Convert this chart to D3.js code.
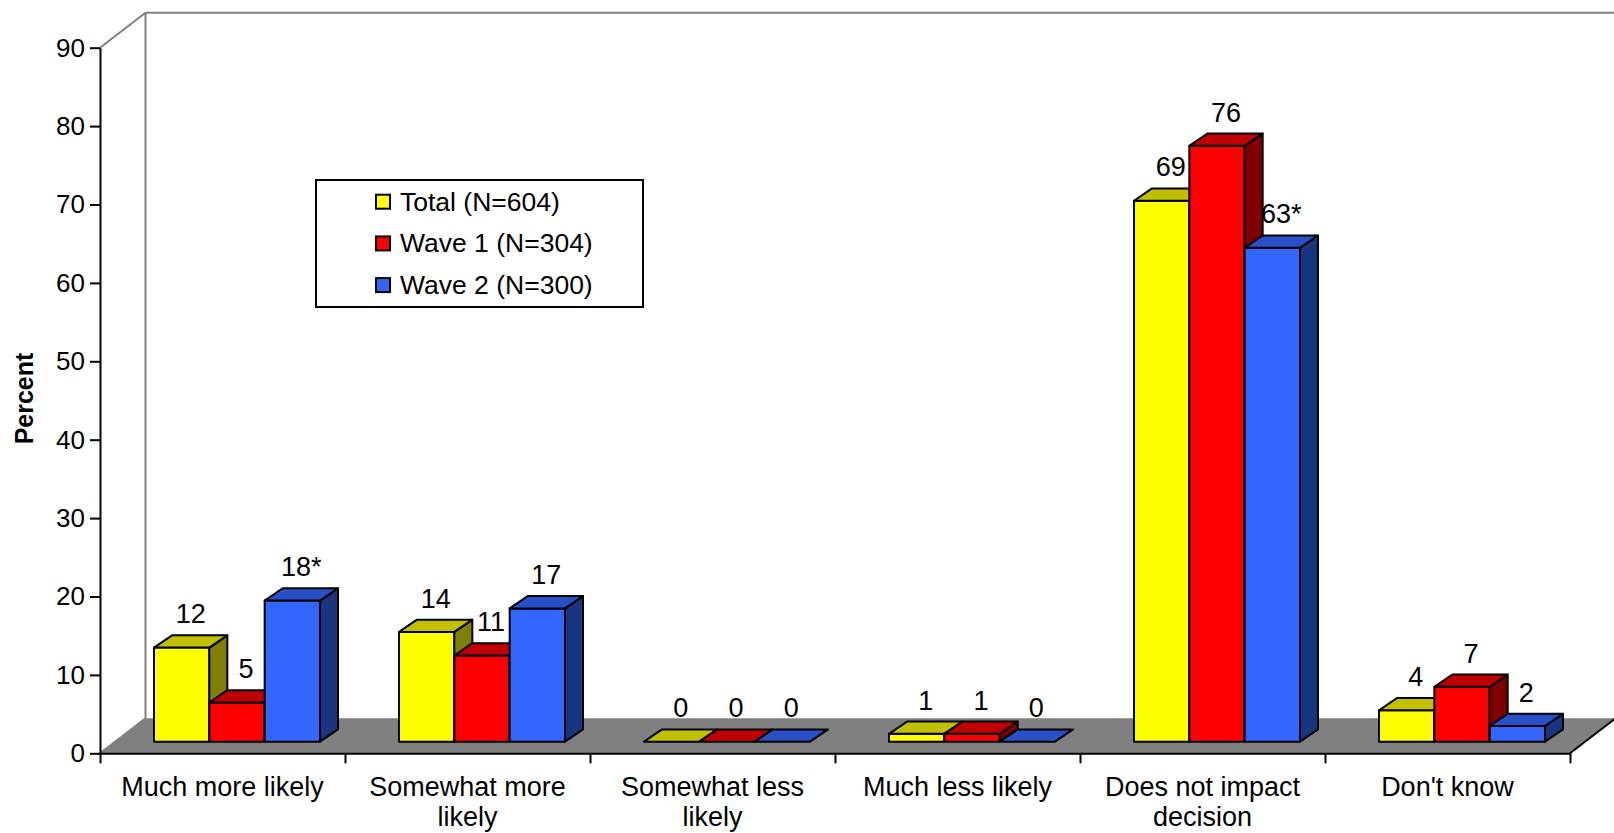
<!DOCTYPE html>
<html>
<head>
<meta charset="utf-8">
<script src="https://cdn.jsdelivr.net/npm/d3@7/dist/d3.min.js"></script>
<style>
  html, body { margin: 0; padding: 0; background: #ffffff; }
  svg { display: block; }
  text { font-family: "Liberation Sans", Arial, sans-serif; fill: #000; }
</style>
</head>
<body>
<svg id="chart" width="1614" height="833"></svg>
<script>
// ---- Data ----
const categories = ["Much more likely", "Somewhat more likely", "Somewhat less likely",
                    "Much less likely", "Does not impact decision", "Don't know"];
const seriesNames = ["Total (N=604)", "Wave 1 (N=304)", "Wave 2 (N=300)"];
const totalValues = [12, 14, 0, 1, 69, 4];
const wave1Values = [5, 11, 0, 1, 76, 7];
const wave2Values = [18, 17, 0, 0, 63, 2];
const wave2Labels = ["18*", "17", "0", "0", "63*", "2"];
const yTicks = [0, 10, 20, 30, 40, 50, 60, 70, 80, 90];
const axisTitle = "Percent";

// Face colours per series: front, top, side
const palette = [
  { front: "#FFFF00", top: "#C0C000", side: "#808000" },
  { front: "#FF0000", top: "#C00000", side: "#800000" },
  { front: "#3366FF", top: "#2850C8", side: "#1A3580" }
];

const seriesValues = [totalValues, wave1Values, wave2Values];
const seriesLabels = [totalValues.map(String), wave1Values.map(String), wave2Labels];

// ---- Geometry ----
const svg = d3.select("#chart");
const plotLeft = 100, plotRight = 1570, plotTop = 47.7, plotBottom = 753.3;
const depthX = 45.5, depthY = -35;          // floor / wall depth
const barShiftX = 14.5, barShiftY = -11.6;  // front plane of the bars
const barDepthX = 18, barDepthY = -12.3;    // depth of each bar
const font = '"Liberation Sans", Arial, sans-serif';

const y = d3.scaleLinear().domain([0, 90]).range([plotBottom, plotTop]);
const x0 = d3.scaleBand().domain(categories).range([plotLeft, plotRight])
  .paddingInner(0.3224).paddingOuter(0.1612);
const x1 = d3.scaleBand().domain(d3.range(seriesNames.length)).range([0, x0.bandwidth()]);

// ---- Walls and floor ----
const wallGray = "#808080";
svg.append("polygon")
  .attr("points", [[plotLeft, plotBottom], [plotRight, plotBottom],
                   [plotRight + depthX, plotBottom + depthY], [plotLeft + depthX, plotBottom + depthY]]
                  .map(p => p.join(",")).join(" "))
  .attr("fill", "#808080");

// back wall outline
svg.append("line")
  .attr("x1", plotLeft + depthX).attr("y1", plotBottom + depthY)
  .attr("x2", plotLeft + depthX).attr("y2", plotTop + depthY)
  .attr("stroke", wallGray).attr("stroke-width", 2);
svg.append("line")
  .attr("x1", plotLeft + depthX).attr("y1", plotTop + depthY)
  .attr("x2", plotRight + depthX + 10).attr("y2", plotTop + depthY)
  .attr("stroke", wallGray).attr("stroke-width", 2);
// side wall edges
svg.append("line")
  .attr("x1", plotLeft).attr("y1", plotTop)
  .attr("x2", plotLeft + depthX).attr("y2", plotTop + depthY)
  .attr("stroke", wallGray).attr("stroke-width", 2);
svg.append("line")
  .attr("x1", plotLeft).attr("y1", plotBottom)
  .attr("x2", plotLeft + depthX).attr("y2", plotBottom + depthY)
  .attr("stroke", wallGray).attr("stroke-width", 2);
// right floor edge
svg.append("line")
  .attr("x1", plotRight).attr("y1", plotBottom)
  .attr("x2", plotRight + depthX).attr("y2", plotBottom + depthY)
  .attr("stroke", "#000").attr("stroke-width", 2);

// ---- 3D bars ----
const pts = arr => arr.map(p => p.join(",")).join(" ");
const barsG = svg.append("g");
const labelsG = svg.append("g");

categories.forEach((cat, ci) => {
  seriesValues.forEach((vals, si) => {
    const v = vals[ci];
    const c = palette[si];
    const xl = x0(cat) + x1(si) + barShiftX;
    const xr = xl + x1.bandwidth();
    const yb = y(0) + barShiftY;
    const yt = y(v) + barShiftY;
    const g = barsG.append("g")
      .attr("stroke", "#000").attr("stroke-width", 2).attr("stroke-linejoin", "round");
    if (v > 0) {
      g.append("polygon").attr("points", pts([[xl, yb], [xr, yb], [xr, yt], [xl, yt]]))
        .attr("fill", c.front);
      g.append("polygon").attr("points",
        pts([[xr, yb], [xr + barDepthX, yb + barDepthY], [xr + barDepthX, yt + barDepthY], [xr, yt]]))
        .attr("fill", c.side);
    }
    g.append("polygon").attr("points",
      pts([[xl, yt], [xr, yt], [xr + barDepthX, yt + barDepthY], [xl + barDepthX, yt + barDepthY]]))
      .attr("fill", c.top);

    labelsG.append("text")
      .attr("x", (xl + xr) / 2 + barDepthX / 2)
      .attr("y", yt + barDepthY - 12)
      .attr("text-anchor", "middle")
      .style("font-size", "27px")
      .text(seriesLabels[si][ci]);
  });
});

// ---- Axes ----
const yAxis = d3.axisLeft(y).tickValues(yTicks).tickSize(10).tickSizeOuter(0).tickPadding(5);
const yAxisG = svg.append("g").attr("transform", `translate(${plotLeft},0)`).call(yAxis);
yAxisG.select(".domain").attr("stroke", "#000").attr("stroke-width", 2);
yAxisG.selectAll(".tick line").attr("stroke", "#000").attr("stroke-width", 2);
yAxisG.selectAll(".tick text").style("font-size", "26px").style("font-family", font).attr("fill", "#000");

// x axis line and category boundary ticks
const boundaries = d3.range(categories.length + 1);
const xb = d3.scaleLinear().domain([0, categories.length]).range([plotLeft, plotRight]);
const xAxis = d3.axisBottom(xb).tickValues(boundaries).tickSize(10).tickSizeOuter(0).tickFormat("");
const xAxisG = svg.append("g").attr("transform", `translate(0,${plotBottom})`).call(xAxis);
xAxisG.select(".domain").attr("stroke", "#000").attr("stroke-width", 2);
xAxisG.selectAll(".tick line").attr("stroke", "#000").attr("stroke-width", 2);

// category labels, wrapped to the band width
const catG = svg.append("g");
categories.forEach(cat => {
  const cx = x0(cat) + x0.bandwidth() / 2;
  const t = catG.append("text")
    .attr("x", cx).attr("y", 796)
    .attr("text-anchor", "middle")
    .style("font-size", "27px");
  const words = cat.split(" ");
  let line = [];
  let tspan = t.append("tspan").attr("x", cx).attr("dy", 0);
  words.forEach(w => {
    line.push(w);
    tspan.text(line.join(" "));
    if (tspan.node().getComputedTextLength() > 222 && line.length > 1) {
      line.pop();
      tspan.text(line.join(" "));
      line = [w];
      tspan = t.append("tspan").attr("x", cx).attr("dy", 30).text(w);
    }
  });
});

// y axis title
svg.append("text")
  .attr("transform", "translate(33,398.5) rotate(-90)")
  .attr("text-anchor", "middle")
  .style("font-size", "25px").style("font-weight", "bold")
  .text(axisTitle);

// ---- Legend ----
const legend = svg.append("g");
legend.append("rect")
  .attr("x", 316).attr("y", 180).attr("width", 327).attr("height", 127)
  .attr("fill", "#fff").attr("stroke", "#000").attr("stroke-width", 2);
seriesNames.forEach((name, i) => {
  const cy = 201.7 + i * 41.7;
  legend.append("rect")
    .attr("x", 376).attr("y", cy - 7).attr("width", 14).attr("height", 14)
    .attr("fill", palette[i].front).attr("stroke", "#000").attr("stroke-width", 2);
  legend.append("text")
    .attr("x", 400).attr("y", cy + 9)
    .style("font-size", "26.5px")
    .text(name);
});
</script>
</body>
</html>
